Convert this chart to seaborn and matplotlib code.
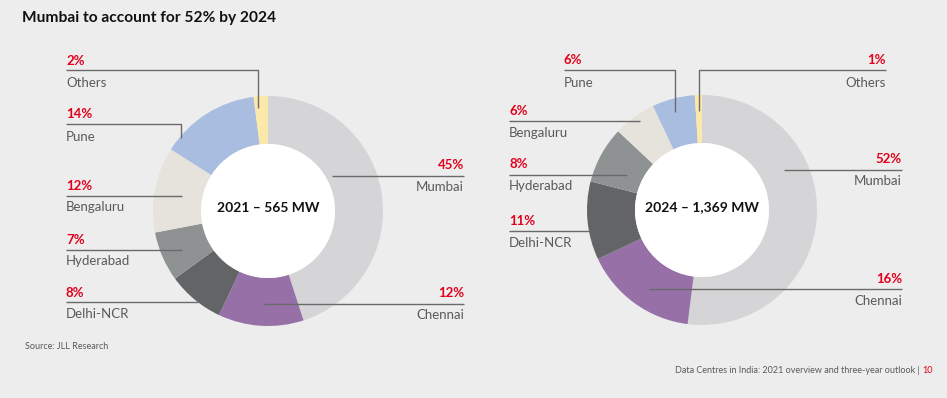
import matplotlib
matplotlib.use("Agg")
import matplotlib.pyplot as plt
from matplotlib.patches import Circle
import seaborn as sns

# ---------------- data ----------------
cities = ["Mumbai", "Chennai", "Delhi-NCR", "Hyderabad", "Bengaluru", "Pune", "Others"]
share_2021 = [45, 12, 8, 7, 12, 14, 2]
share_2024 = [52, 16, 11, 8, 6, 6, 1]
centre_labels = ["2021 – 565 MW", "2024 – 1,369 MW"]
title = "Mumbai to account for 52% by 2024"
source = "Source: JLL Research"
footer = "Data Centres in India: 2021 overview and three-year outlook"
page = "10"

# ---------------- style ----------------
sns.set_theme(style="white")
plt.rcParams["font.family"] = ["Lato", "DejaVu Sans"]

BG = "#ededed"
RED = "#e2001a"
TXT = "#5a5a5a"
LINE = "#6a6a6a"
colors = ["#d5d5d7", "#9670a6", "#636466", "#8f9293", "#e6e2dc", "#a9bde1", "#fce8a8"]

W, H = 947, 398
fig = plt.figure(figsize=(W / 100, H / 100), dpi=100, facecolor=BG)

R = 115.0
INNER = 67.0 / R
centres = [(268, 211), (702, 210)]

for (cx, cy), vals in zip(centres, [share_2021, share_2024]):
    ax = fig.add_axes([(cx - R) / W, 1 - (cy + R) / H, 2 * R / W, 2 * R / H])
    ax.pie(vals, colors=colors, startangle=90, counterclock=False, radius=1,
           wedgeprops=dict(width=1 - INNER, linewidth=0, edgecolor="none"))
    ax.add_patch(Circle((0, 0), INNER, facecolor="white", edgecolor="none", zorder=5))
    ax.set_xlim(-1, 1)
    ax.set_ylim(-1, 1)
    ax.set_facecolor("none")
    ax.axis("off")

# overlay in pixel coordinates for annotations
ov = fig.add_axes([0, 0, 1, 1], zorder=10)
ov.set_xlim(0, W)
ov.set_ylim(H, 0)
ov.axis("off")
ov.set_facecolor("none")

# layout: city -> (text x, ha, pct baseline, name baseline, leader path)
layouts = [
    {
        "Others":    (66, "left", 65, 87, [(66, 70), (258, 70), (258, 108)]),
        "Pune":      (66, "left", 118, 141, [(66, 124), (181, 124), (181, 138)]),
        "Bengaluru": (66, "left", 190, 211, [(66, 196), (182, 196)]),
        "Hyderabad": (66, "left", 244, 265, [(66, 250), (182, 250)]),
        "Delhi-NCR": (66, "left", 297, 318, [(66, 302), (198, 302)]),
        "Mumbai":    (464, "right", 169, 191, [(332, 176), (464, 176)]),
        "Chennai":   (464, "right", 297, 319, [(264, 304), (464, 304)]),
    },
    {
        "Pune":      (564, "left", 64, 87, [(564, 70), (675, 70), (675, 112)]),
        "Others":    (886, "right", 64, 87, [(886, 70), (699, 70), (699, 111)]),
        "Bengaluru": (509, "left", 115, 137, [(509, 121), (640, 121)]),
        "Hyderabad": (509, "left", 168, 190, [(509, 175), (627, 175)]),
        "Delhi-NCR": (509, "left", 225, 247, [(509, 231), (589, 231)]),
        "Mumbai":    (902, "right", 163, 185, [(784, 170), (902, 170)]),
        "Chennai":   (902, "right", 283, 305, [(649, 289), (902, 289)]),
    },
]

for vals, lay, (cx, cy), lab in zip([share_2021, share_2024], layouts, centres, centre_labels):
    for city, v in zip(cities, vals):
        x, ha, yp, yn, path = lay[city]
        xs, ys = zip(*path)
        ov.plot(xs, ys, color=LINE, lw=1.0, solid_capstyle="butt")
        ov.text(x, yp, f"{v}%", color=RED, fontsize=9.5, fontweight="bold",
                ha=ha, va="baseline")
        ov.text(x, yn, city, color=TXT, fontsize=9.5, ha=ha, va="baseline")
    ov.text(cx, cy - 3, lab, color="#111111", fontsize=10, fontweight="bold",
            ha="center", va="center", zorder=20)

ov.text(22, 22, title, color="#111111", fontsize=11.2, fontweight="bold",
        ha="left", va="baseline")
ov.text(25, 349, source, color=TXT, fontsize=6.5, ha="left", va="baseline")
ov.text(922, 373, footer + " | ", color=TXT, fontsize=6.5, ha="right", va="baseline")
ov.text(922, 373, page, color=RED, fontsize=6.5, ha="left", va="baseline")

fig.savefig("out.png", dpi=100, facecolor=BG)
